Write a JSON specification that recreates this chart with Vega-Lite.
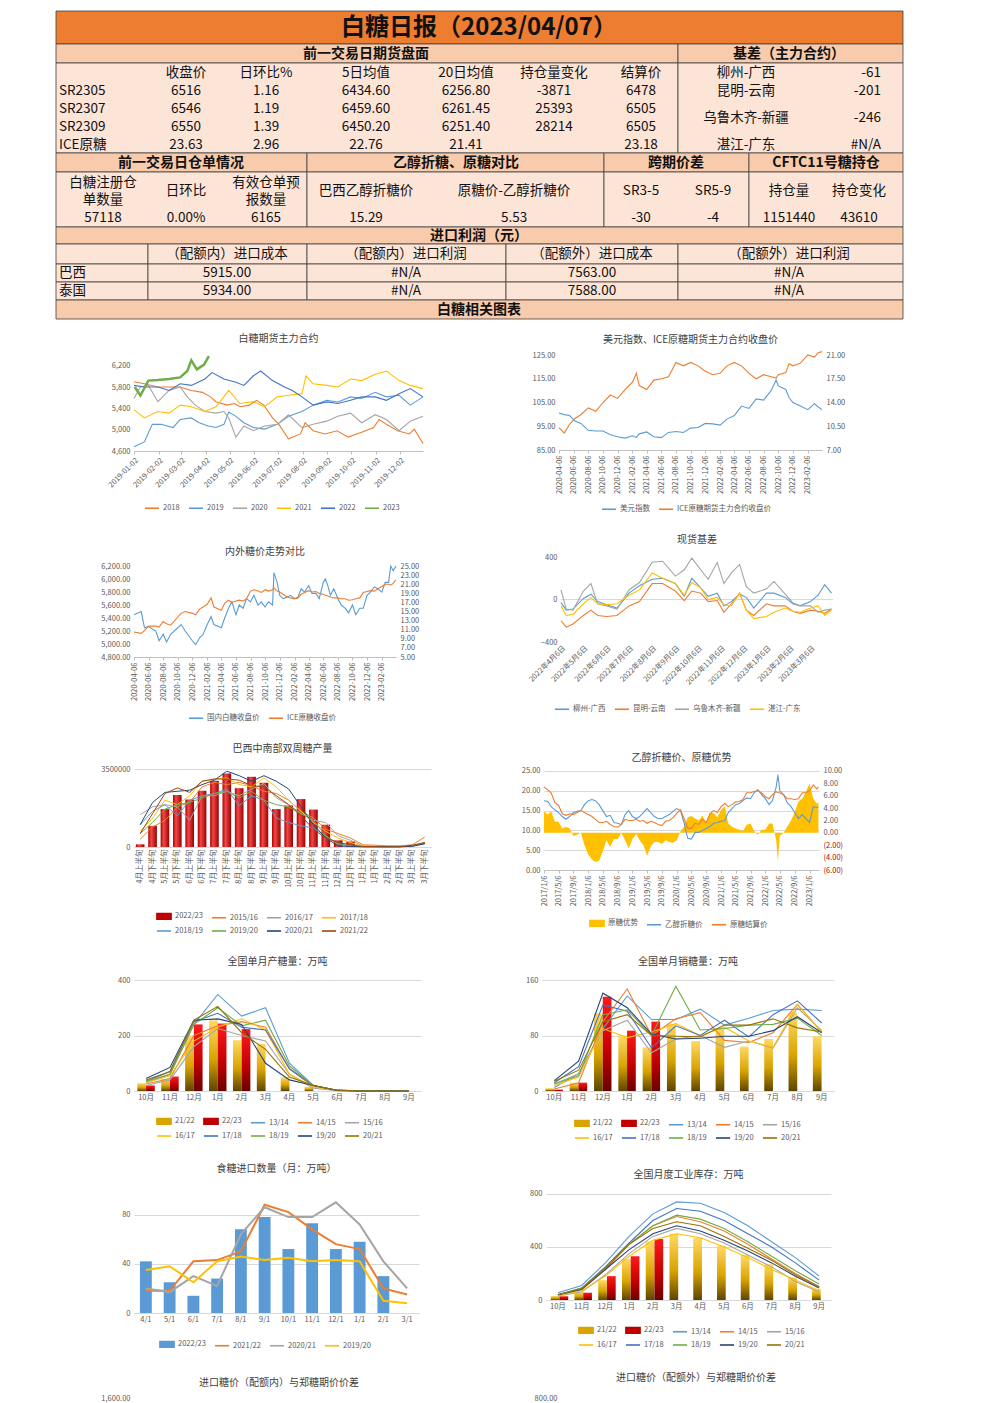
{
"$schema":"https://vega.github.io/schema/vega-lite/v6.json",
"background":"white",
"padding":{"left":55,"top":10,"right":0,"bottom":0},
"spacing":14,
"resolve":{"scale":{"color":"independent","fill":"independent"},"legend":{"color":"independent","fill":"independent"}},
"config":{
 "font":"Noto Sans CJK SC",
 "view":{"stroke":null},
 "title":{"fontSize":10,"fontWeight":"normal","color":"#404040","anchor":"middle","frame":"group","font":"Noto Sans CJK SC"},
 "axis":{"labelFontSize":7.5,"labelColor":"#595959","labelFont":"Noto Sans CJK SC","grid":false,"domainColor":"#BFBFBF","tickColor":"#BFBFBF","gridColor":"#D9D9D9","labelOverlap":false},
 "axisX":{"tickSize":3},
 "axisY":{"domain":false,"ticks":false,"labelPadding":4},
 "legend":{"labelFontSize":7.5,"labelColor":"#595959","labelFont":"Noto Sans CJK SC","title":null,"symbolSize":200,"symbolStrokeWidth":1.6,"orient":"none","direction":"horizontal","columnPadding":5,"labelOffset":3,"rowPadding":0,"symbolType":"stroke"}
},
"datasets":{
 "cells":[
  {"c":0,"c2":29,"r":0,"r2":1,"k":"title"},
  {"c":0,"c2":21,"r":1,"r2":2,"k":"head"},{"c":21,"c2":29,"r":1,"r2":2,"k":"head"},
  {"c":0,"c2":21,"r":2,"r2":7,"k":"body"},{"c":21,"c2":29,"r":2,"r2":7,"k":"body"},
  {"c":0,"c2":8,"r":7,"r2":8,"k":"head"},{"c":8,"c2":18,"r":7,"r2":8,"k":"head"},{"c":18,"c2":24,"r":7,"r2":8,"k":"head"},{"c":24,"c2":29,"r":7,"r2":8,"k":"head"},
  {"c":0,"c2":8,"r":8,"r2":10,"k":"body"},{"c":8,"c2":18,"r":8,"r2":10,"k":"body"},{"c":18,"c2":24,"r":8,"r2":10,"k":"body"},{"c":24,"c2":29,"r":8,"r2":10,"k":"body"},
  {"c":0,"c2":29,"r":10,"r2":11,"k":"head"},
  {"c":0,"c2":3,"r":11,"r2":12,"k":"body"},{"c":3,"c2":8,"r":11,"r2":12,"k":"body"},{"c":8,"c2":14,"r":11,"r2":12,"k":"body"},{"c":14,"c2":21,"r":11,"r2":12,"k":"body"},{"c":21,"c2":29,"r":11,"r2":12,"k":"body"},
  {"c":0,"c2":3,"r":12,"r2":13,"k":"body"},{"c":3,"c2":8,"r":12,"r2":13,"k":"body"},{"c":8,"c2":14,"r":12,"r2":13,"k":"body"},{"c":14,"c2":21,"r":12,"r2":13,"k":"body"},{"c":21,"c2":29,"r":12,"r2":13,"k":"body"},
  {"c":0,"c2":3,"r":13,"r2":14,"k":"body"},{"c":3,"c2":8,"r":13,"r2":14,"k":"body"},{"c":8,"c2":14,"r":13,"r2":14,"k":"body"},{"c":14,"c2":21,"r":13,"r2":14,"k":"body"},{"c":21,"c2":29,"r":13,"r2":14,"k":"body"},
  {"c":0,"c2":29,"r":14,"r2":15,"k":"head"}
 ],
 "texts":[
  {"c":13,"r":0.5,"t":"白糖日报（2023/04/07）","k":"title"},
  {"c":9,"r":1.5,"t":"前一交易日期货盘面","k":"head"},
  {"c":25,"r":1.5,"t":"基差（主力合约）","k":"head"},
  {"c":5,"r":2.5,"t":"收盘价","k":"body"},{"c":7,"r":2.5,"t":"日环比%","k":"body"},{"c":9,"r":2.5,"t":"5日均值","k":"body"},{"c":12,"r":2.5,"t":"20日均值","k":"body"},{"c":16,"r":2.5,"t":"持仓量变化","k":"body"},{"c":19,"r":2.5,"t":"结算价","k":"body"},{"c":23,"r":2.5,"t":"柳州-广西","k":"body"},{"c":28,"r":2.5,"t":"-61","k":"right"},
  {"c":1,"r":3.5,"t":"SR2305","k":"left"},{"c":5,"r":3.5,"t":"6516","k":"body"},{"c":7,"r":3.5,"t":"1.16","k":"body"},{"c":9,"r":3.5,"t":"6434.60","k":"body"},{"c":12,"r":3.5,"t":"6256.80","k":"body"},{"c":16,"r":3.5,"t":"-3871","k":"body"},{"c":19,"r":3.5,"t":"6478","k":"body"},{"c":23,"r":3.5,"t":"昆明-云南","k":"body"},{"c":28,"r":3.5,"t":"-201","k":"right"},
  {"c":1,"r":4.5,"t":"SR2307","k":"left"},{"c":5,"r":4.5,"t":"6546","k":"body"},{"c":7,"r":4.5,"t":"1.19","k":"body"},{"c":9,"r":4.5,"t":"6459.60","k":"body"},{"c":12,"r":4.5,"t":"6261.45","k":"body"},{"c":16,"r":4.5,"t":"25393","k":"body"},{"c":19,"r":4.5,"t":"6505","k":"body"},
  {"c":23,"r":5,"t":"乌鲁木齐-新疆","k":"body"},{"c":28,"r":5,"t":"-246","k":"right"},
  {"c":1,"r":5.5,"t":"SR2309","k":"left"},{"c":5,"r":5.5,"t":"6550","k":"body"},{"c":7,"r":5.5,"t":"1.39","k":"body"},{"c":9,"r":5.5,"t":"6450.20","k":"body"},{"c":12,"r":5.5,"t":"6251.40","k":"body"},{"c":16,"r":5.5,"t":"28214","k":"body"},{"c":19,"r":5.5,"t":"6505","k":"body"},
  {"c":1,"r":6.5,"t":"ICE原糖","k":"left"},{"c":5,"r":6.5,"t":"23.63","k":"body"},{"c":7,"r":6.5,"t":"2.96","k":"body"},{"c":9,"r":6.5,"t":"22.76","k":"body"},{"c":12,"r":6.5,"t":"21.41","k":"body"},{"c":19,"r":6.5,"t":"23.18","k":"body"},{"c":23,"r":6.5,"t":"湛江-广东","k":"body"},{"c":28,"r":6.5,"t":"#N/A","k":"right"},
  {"c":4,"r":7.5,"t":"前一交易日仓单情况","k":"head"},{"c":11,"r":7.5,"t":"乙醇折糖、原糖对比","k":"head"},{"c":20,"r":7.5,"t":"跨期价差","k":"head"},{"c":26,"r":7.5,"t":"CFTC11号糖持仓","k":"head"},
  {"c":2,"r":8.3,"t":"白糖注册仓","k":"body"},{"c":2,"r":8.77,"t":"单数量","k":"body"},{"c":5,"r":8.5,"t":"日环比","k":"body"},{"c":7,"r":8.3,"t":"有效仓单预","k":"body"},{"c":7,"r":8.77,"t":"报数量","k":"body"},{"c":9,"r":8.5,"t":"巴西乙醇折糖价","k":"body"},{"c":15,"r":8.5,"t":"原糖价-乙醇折糖价","k":"body"},{"c":19,"r":8.5,"t":"SR3-5","k":"body"},{"c":22,"r":8.5,"t":"SR5-9","k":"body"},{"c":25,"r":8.5,"t":"持仓量","k":"body"},{"c":27,"r":8.5,"t":"持仓变化","k":"body"},
  {"c":2,"r":9.5,"t":"57118","k":"body"},{"c":5,"r":9.5,"t":"0.00%","k":"body"},{"c":7,"r":9.5,"t":"6165","k":"body"},{"c":9,"r":9.5,"t":"15.29","k":"body"},{"c":15,"r":9.5,"t":"5.53","k":"body"},{"c":19,"r":9.5,"t":"-30","k":"body"},{"c":22,"r":9.5,"t":"-4","k":"body"},{"c":25,"r":9.5,"t":"1151440","k":"body"},{"c":27,"r":9.5,"t":"43610","k":"body"},
  {"c":13,"r":10.5,"t":"进口利润（元）","k":"head"},
  {"c":6,"r":11.5,"t":"（配额内）进口成本","k":"body"},{"c":10,"r":11.5,"t":"（配额内）进口利润","k":"body"},{"c":17,"r":11.5,"t":"（配额外）进口成本","k":"body"},{"c":25,"r":11.5,"t":"（配额外）进口利润","k":"body"},
  {"c":1,"r":12.5,"t":"巴西","k":"left"},{"c":6,"r":12.5,"t":"5915.00","k":"body"},{"c":10,"r":12.5,"t":"#N/A","k":"body"},{"c":17,"r":12.5,"t":"7563.00","k":"body"},{"c":25,"r":12.5,"t":"#N/A","k":"body"},
  {"c":1,"r":13.5,"t":"泰国","k":"left"},{"c":6,"r":13.5,"t":"5934.00","k":"body"},{"c":10,"r":13.5,"t":"#N/A","k":"body"},{"c":17,"r":13.5,"t":"7588.00","k":"body"},{"c":25,"r":13.5,"t":"#N/A","k":"body"},
  {"c":13,"r":14.5,"t":"白糖相关图表","k":"head"}
 ],
 "c1":[
  {"d":"2019-01-02","s":"2018","v":5900},{"d":"2019-01-15","s":"2018","v":5860},{"d":"2019-02-01","s":"2018","v":5800},{"d":"2019-03-01","s":"2018","v":5800},{"d":"2019-03-15","s":"2018","v":5735},{"d":"2019-03-29","s":"2018","v":5700},{"d":"2019-04-08","s":"2018","v":5615},{"d":"2019-04-15","s":"2018","v":5525},{"d":"2019-04-29","s":"2018","v":5460},{"d":"2019-05-08","s":"2018","v":5490},{"d":"2019-05-15","s":"2018","v":5430},{"d":"2019-05-27","s":"2018","v":5460},{"d":"2019-06-05","s":"2018","v":5550},{"d":"2019-06-14","s":"2018","v":5460},{"d":"2019-06-25","s":"2018","v":5220},{"d":"2019-07-03","s":"2018","v":5100},{"d":"2019-07-15","s":"2018","v":4830},{"d":"2019-07-30","s":"2018","v":4920},{"d":"2019-08-05","s":"2018","v":5130},{"d":"2019-08-15","s":"2018","v":4980},{"d":"2019-08-30","s":"2018","v":4920},{"d":"2019-09-14","s":"2018","v":4980},{"d":"2019-09-28","s":"2018","v":4860},{"d":"2019-10-15","s":"2018","v":4950},{"d":"2019-10-30","s":"2018","v":5040},{"d":"2019-11-06","s":"2018","v":5190},{"d":"2019-11-15","s":"2018","v":5100},{"d":"2019-11-29","s":"2018","v":4980},{"d":"2019-12-14","s":"2018","v":4920},{"d":"2019-12-20","s":"2018","v":5010},{"d":"2019-12-31","s":"2018","v":4740},
  {"d":"2019-01-02","s":"2019","v":4680},{"d":"2019-01-15","s":"2019","v":4770},{"d":"2019-01-25","s":"2019","v":5100},{"d":"2019-02-05","s":"2019","v":5100},{"d":"2019-02-20","s":"2019","v":5040},{"d":"2019-03-01","s":"2019","v":5190},{"d":"2019-03-15","s":"2019","v":5220},{"d":"2019-03-25","s":"2019","v":5130},{"d":"2019-04-05","s":"2019","v":5070},{"d":"2019-04-15","s":"2019","v":5040},{"d":"2019-04-25","s":"2019","v":5100},{"d":"2019-05-01","s":"2019","v":5330},{"d":"2019-05-10","s":"2019","v":5250},{"d":"2019-05-20","s":"2019","v":5130},{"d":"2019-06-01","s":"2019","v":5040},{"d":"2019-06-15","s":"2019","v":5010},{"d":"2019-07-01","s":"2019","v":5100},{"d":"2019-07-15","s":"2019","v":5250},{"d":"2019-08-01","s":"2019","v":5340},{"d":"2019-08-15","s":"2019","v":5460},{"d":"2019-09-01","s":"2019","v":5550},{"d":"2019-09-15","s":"2019","v":5520},{"d":"2019-10-01","s":"2019","v":5615},{"d":"2019-10-15","s":"2019","v":5585},{"d":"2019-11-01","s":"2019","v":5700},{"d":"2019-11-15","s":"2019","v":5615},{"d":"2019-12-01","s":"2019","v":5645},{"d":"2019-12-15","s":"2019","v":5460},{"d":"2019-12-31","s":"2019","v":5615},
  {"d":"2019-01-02","s":"2020","v":5585},{"d":"2019-01-10","s":"2020","v":5800},{"d":"2019-01-20","s":"2020","v":5830},{"d":"2019-02-01","s":"2020","v":5525},{"d":"2019-02-15","s":"2020","v":5735},{"d":"2019-03-01","s":"2020","v":5800},{"d":"2019-03-10","s":"2020","v":5615},{"d":"2019-03-20","s":"2020","v":5460},{"d":"2019-04-01","s":"2020","v":5340},{"d":"2019-04-15","s":"2020","v":5310},{"d":"2019-04-25","s":"2020","v":5340},{"d":"2019-05-01","s":"2020","v":5220},{"d":"2019-05-10","s":"2020","v":4860},{"d":"2019-05-20","s":"2020","v":5070},{"d":"2019-06-01","s":"2020","v":4980},{"d":"2019-06-15","s":"2020","v":5070},{"d":"2019-07-01","s":"2020","v":5100},{"d":"2019-07-15","s":"2020","v":5280},{"d":"2019-08-01","s":"2020","v":5040},{"d":"2019-08-15","s":"2020","v":5100},{"d":"2019-09-01","s":"2020","v":5160},{"d":"2019-09-15","s":"2020","v":5250},{"d":"2019-10-01","s":"2020","v":5310},{"d":"2019-10-15","s":"2020","v":5130},{"d":"2019-11-01","s":"2020","v":5280},{"d":"2019-11-15","s":"2020","v":5190},{"d":"2019-12-01","s":"2020","v":4980},{"d":"2019-12-15","s":"2020","v":5160},{"d":"2019-12-31","s":"2020","v":5250},
  {"d":"2019-01-02","s":"2021","v":5370},{"d":"2019-01-15","s":"2021","v":5220},{"d":"2019-02-01","s":"2021","v":5340},{"d":"2019-02-15","s":"2021","v":5310},{"d":"2019-03-01","s":"2021","v":5460},{"d":"2019-03-15","s":"2021","v":5430},{"d":"2019-04-01","s":"2021","v":5340},{"d":"2019-04-15","s":"2021","v":5430},{"d":"2019-05-01","s":"2021","v":5735},{"d":"2019-05-15","s":"2021","v":5490},{"d":"2019-06-01","s":"2021","v":5525},{"d":"2019-06-15","s":"2021","v":5430},{"d":"2019-07-01","s":"2021","v":5615},{"d":"2019-07-15","s":"2021","v":5645},{"d":"2019-08-01","s":"2021","v":5675},{"d":"2019-08-06","s":"2021","v":6010},{"d":"2019-08-15","s":"2021","v":5860},{"d":"2019-09-01","s":"2021","v":5830},{"d":"2019-09-15","s":"2021","v":5800},{"d":"2019-10-01","s":"2021","v":5950},{"d":"2019-10-15","s":"2021","v":5920},{"d":"2019-11-01","s":"2021","v":6040},{"d":"2019-11-15","s":"2021","v":6100},{"d":"2019-12-01","s":"2021","v":5920},{"d":"2019-12-15","s":"2021","v":5830},{"d":"2019-12-31","s":"2021","v":5770},
  {"d":"2019-01-02","s":"2022","v":5830},{"d":"2019-01-15","s":"2022","v":5800},{"d":"2019-02-01","s":"2022","v":5800},{"d":"2019-02-15","s":"2022","v":5735},{"d":"2019-03-01","s":"2022","v":5860},{"d":"2019-03-15","s":"2022","v":5830},{"d":"2019-04-01","s":"2022","v":5950},{"d":"2019-04-10","s":"2022","v":6070},{"d":"2019-04-25","s":"2022","v":5950},{"d":"2019-05-10","s":"2022","v":5890},{"d":"2019-05-20","s":"2022","v":5830},{"d":"2019-06-01","s":"2022","v":6010},{"d":"2019-06-10","s":"2022","v":6100},{"d":"2019-06-25","s":"2022","v":5920},{"d":"2019-07-10","s":"2022","v":5800},{"d":"2019-07-20","s":"2022","v":5735},{"d":"2019-08-01","s":"2022","v":5615},{"d":"2019-08-15","s":"2022","v":5460},{"d":"2019-09-01","s":"2022","v":5520},{"d":"2019-09-15","s":"2022","v":5490},{"d":"2019-10-01","s":"2022","v":5550},{"d":"2019-10-15","s":"2022","v":5615},{"d":"2019-11-01","s":"2022","v":5615},{"d":"2019-11-15","s":"2022","v":5550},{"d":"2019-12-01","s":"2022","v":5675},{"d":"2019-12-15","s":"2022","v":5770},{"d":"2019-12-31","s":"2022","v":5615},
  {"d":"2019-01-03","s":"2023","v":5800},{"d":"2019-01-10","s":"2023","v":5640},{"d":"2019-01-20","s":"2023","v":5920},{"d":"2019-02-01","s":"2023","v":5930},{"d":"2019-02-15","s":"2023","v":5950},{"d":"2019-03-01","s":"2023","v":5980},{"d":"2019-03-10","s":"2023","v":6100},{"d":"2019-03-15","s":"2023","v":6300},{"d":"2019-03-22","s":"2023","v":6130},{"d":"2019-03-31","s":"2023","v":6220},{"d":"2019-04-06","s":"2023","v":6380}
 ],
 "c2":[
  {"d":"2020-04-06","a":100.6,"b":10.3},{"d":"2020-04-28","a":99.9,"b":9.5},{"d":"2020-05-20","a":99.5,"b":10.8},{"d":"2020-06-10","a":97.3,"b":11.6},{"d":"2020-07-06","a":96.2,"b":12.2},{"d":"2020-08-06","a":93.3,"b":13.2},{"d":"2020-09-06","a":93.0,"b":12.7},{"d":"2020-10-06","a":93.0,"b":14.0},{"d":"2020-11-06","a":91.4,"b":15.1},{"d":"2020-12-06","a":90.6,"b":14.6},{"d":"2021-01-06","a":90.0,"b":15.9},{"d":"2021-02-06","a":91.0,"b":17.0},{"d":"2021-02-22","a":90.3,"b":18.3},{"d":"2021-03-06","a":91.8,"b":16.5},{"d":"2021-04-06","a":92.6,"b":15.9},{"d":"2021-05-06","a":90.6,"b":17.3},{"d":"2021-06-06","a":90.2,"b":17.5},{"d":"2021-07-06","a":92.4,"b":17.8},{"d":"2021-08-06","a":92.8,"b":19.9},{"d":"2021-09-06","a":92.4,"b":19.4},{"d":"2021-10-06","a":94.2,"b":19.9},{"d":"2021-11-06","a":94.5,"b":19.4},{"d":"2021-12-06","a":96.2,"b":18.6},{"d":"2022-01-06","a":96.0,"b":18.1},{"d":"2022-02-06","a":95.5,"b":18.3},{"d":"2022-03-06","a":98.0,"b":19.4},{"d":"2022-04-06","a":99.5,"b":19.9},{"d":"2022-05-06","a":103.5,"b":19.4},{"d":"2022-06-06","a":102.5,"b":18.3},{"d":"2022-07-06","a":106.5,"b":17.5},{"d":"2022-08-06","a":106.0,"b":18.1},{"d":"2022-09-06","a":110.0,"b":17.8},{"d":"2022-09-27","a":114.5,"b":17.6},{"d":"2022-10-06","a":112.0,"b":18.1},{"d":"2022-11-06","a":110.5,"b":18.4},{"d":"2022-11-20","a":107.0,"b":19.7},{"d":"2022-12-06","a":105.0,"b":19.4},{"d":"2023-01-06","a":103.5,"b":19.8},{"d":"2023-02-06","a":102.0,"b":21.0},{"d":"2023-03-06","a":104.5,"b":20.7},{"d":"2023-03-20","a":103.2,"b":21.3},{"d":"2023-04-06","a":102.0,"b":21.5}
 ],
 "c3":[
  {"d":"2020-04-06","a":5450,"b":10.5},{"d":"2020-05-06","a":5500,"b":10.2},{"d":"2020-05-20","a":5250,"b":10.8},{"d":"2020-06-06","a":5270,"b":11.8},{"d":"2020-07-06","a":5200,"b":11.8},{"d":"2020-07-20","a":5050,"b":11.6},{"d":"2020-08-06","a":5150,"b":12.8},{"d":"2020-08-20","a":5030,"b":12.3},{"d":"2020-09-06","a":5150,"b":12.0},{"d":"2020-10-06","a":5250,"b":13.8},{"d":"2020-10-20","a":5300,"b":14.6},{"d":"2020-11-06","a":5200,"b":15.0},{"d":"2020-12-06","a":5050,"b":14.6},{"d":"2020-12-20","a":4990,"b":14.3},
  {"d":"2021-01-06","a":5100,"b":15.6},{"d":"2021-01-20","a":5150,"b":16.0},{"d":"2021-02-06","a":5300,"b":16.6},{"d":"2021-02-22","a":5420,"b":18.0},{"d":"2021-03-06","a":5300,"b":16.0},{"d":"2021-04-06","a":5250,"b":15.3},{"d":"2021-04-20","a":5400,"b":16.8},{"d":"2021-05-06","a":5550,"b":17.5},{"d":"2021-05-20","a":5650,"b":17.0},{"d":"2021-06-06","a":5450,"b":17.3},{"d":"2021-06-20","a":5600,"b":17.5},{"d":"2021-07-06","a":5550,"b":17.3},{"d":"2021-07-20","a":5700,"b":17.8},{"d":"2021-08-06","a":5650,"b":19.5},{"d":"2021-08-20","a":5750,"b":19.8},{"d":"2021-09-06","a":5600,"b":19.5},{"d":"2021-09-20","a":5650,"b":19.2},{"d":"2021-10-06","a":5570,"b":19.8},{"d":"2021-10-20","a":5650,"b":19.5},{"d":"2021-11-06","a":5600,"b":19.8},{"d":"2021-11-12","a":6100,"b":20.2},{"d":"2021-11-25","a":5950,"b":19.5},{"d":"2021-12-06","a":5750,"b":19.3},{"d":"2021-12-20","a":5700,"b":18.8},
  {"d":"2022-01-06","a":5720,"b":18.2},{"d":"2022-01-20","a":5750,"b":18.0},{"d":"2022-02-06","a":5700,"b":17.8},{"d":"2022-02-20","a":5720,"b":18.0},{"d":"2022-03-06","a":5850,"b":18.8},{"d":"2022-03-20","a":5800,"b":19.2},{"d":"2022-04-06","a":5900,"b":19.6},{"d":"2022-04-20","a":5780,"b":19.3},{"d":"2022-05-06","a":5780,"b":19.4},{"d":"2022-05-20","a":5700,"b":19.0},{"d":"2022-06-06","a":5950,"b":18.8},{"d":"2022-06-15","a":6000,"b":18.6},{"d":"2022-06-25","a":5900,"b":18.4},{"d":"2022-07-06","a":5750,"b":18.2},{"d":"2022-07-20","a":5850,"b":18.0},{"d":"2022-08-06","a":5700,"b":18.0},{"d":"2022-08-20","a":5600,"b":17.8},{"d":"2022-09-06","a":5550,"b":17.8},{"d":"2022-09-20","a":5480,"b":17.5},{"d":"2022-10-06","a":5600,"b":17.6},{"d":"2022-10-20","a":5450,"b":17.8},{"d":"2022-11-06","a":5550,"b":18.0},{"d":"2022-11-20","a":5550,"b":19.2},{"d":"2022-12-06","a":5750,"b":19.4},{"d":"2022-12-20","a":5800,"b":19.6},
  {"d":"2023-01-06","a":5880,"b":19.5},{"d":"2023-01-20","a":5850,"b":20.0},{"d":"2023-02-06","a":5800,"b":20.5},{"d":"2023-02-20","a":5950,"b":21.0},{"d":"2023-03-06","a":5950,"b":21.0},{"d":"2023-03-15","a":6200,"b":20.8},{"d":"2023-03-25","a":6130,"b":21.2},{"d":"2023-04-06","a":6200,"b":22.0}
 ],
 "c4":[
  {"d":"2022-04-06","柳州-广西":-30,"昆明-云南":-200,"乌鲁木齐-新疆":90,"湛江-广东":-60},
  {"d":"2022-04-13","柳州-广西":-100,"昆明-云南":-260,"乌鲁木齐-新疆":-90,"湛江-广东":-150},
  {"d":"2022-04-22","柳州-广西":-90,"昆明-云南":-230,"乌鲁木齐-新疆":-100,"湛江-广东":-140},
  {"d":"2022-05-06","柳州-广西":10,"昆明-云南":-150,"乌鲁木齐-新疆":80,"湛江-广东":-40},
  {"d":"2022-05-16","柳州-广西":50,"昆明-云南":-100,"乌鲁木齐-新疆":150,"湛江-广东":20},
  {"d":"2022-05-25","柳州-广西":-20,"昆明-云南":-150,"乌鲁木齐-新疆":-40,"湛江-广东":-40},
  {"d":"2022-06-06","柳州-广西":-50,"昆明-云南":-160,"乌鲁木齐-新疆":-60,"湛江-广东":-50},
  {"d":"2022-06-20","柳州-广西":-80,"昆明-云南":-150,"乌鲁木齐-新疆":-90,"湛江-广东":-40},
  {"d":"2022-07-06","柳州-广西":60,"昆明-云南":-60,"乌鲁木齐-新疆":90,"湛江-广东":40},
  {"d":"2022-07-20","柳州-广西":130,"昆明-云南":-20,"乌鲁木齐-新疆":160,"湛江-广东":90},
  {"d":"2022-08-06","柳州-广西":190,"昆明-云南":150,"乌鲁木齐-新疆":350,"湛江-广东":250},
  {"d":"2022-08-20","柳州-广西":200,"昆明-云南":150,"乌鲁木齐-新疆":360,"湛江-广东":200},
  {"d":"2022-09-06","柳州-广西":150,"昆明-云南":80,"乌鲁木齐-新疆":220,"湛江-广东":150},
  {"d":"2022-09-18","柳州-广西":30,"昆明-云南":-10,"乌鲁木齐-新疆":280,"湛江-广东":40},
  {"d":"2022-09-28","柳州-广西":200,"昆明-云南":80,"乌鲁木齐-新疆":390,"湛江-广东":160},
  {"d":"2022-10-10","柳州-广西":110,"昆明-云南":60,"乌鲁木齐-新疆":280,"湛江-广东":110},
  {"d":"2022-10-20","柳州-广西":30,"昆明-云南":-20,"乌鲁木齐-新疆":190,"湛江-广东":0},
  {"d":"2022-11-01","柳州-广西":60,"昆明-云南":-10,"乌鲁木齐-新疆":350,"湛江-广东":20},
  {"d":"2022-11-10","柳州-广西":-60,"昆明-云南":-120,"乌鲁木齐-新疆":150,"湛江-广东":-50},
  {"d":"2022-11-20","柳州-广西":-20,"昆明-云南":-40,"乌鲁木齐-新疆":250,"湛江-广东":-60},
  {"d":"2022-12-01","柳州-广西":50,"昆明-云南":60,"乌鲁木齐-新疆":330,"湛江-广东":60},
  {"d":"2022-12-10","柳州-广西":20,"昆明-云南":-100,"乌鲁木齐-新疆":120,"湛江-广东":-100},
  {"d":"2022-12-20","柳州-广西":-80,"昆明-云南":-150,"乌鲁木齐-新疆":60,"湛江-广东":-180},
  {"d":"2023-01-06","柳州-广西":60,"昆明-云南":-40,"乌鲁木齐-新疆":100,"湛江-广东":-160},
  {"d":"2023-01-16","柳州-广西":60,"昆明-云南":-60,"乌鲁木齐-新疆":170,"湛江-广东":-120},
  {"d":"2023-01-31","柳州-广西":20,"昆明-云南":-60,"乌鲁木齐-新疆":50,"湛江-广东":-80},
  {"d":"2023-02-10","柳州-广西":-40,"昆明-云南":-110,"乌鲁木齐-新疆":-30,"湛江-广东":-110},
  {"d":"2023-02-20","柳州-广西":-60,"昆明-云南":-130,"乌鲁木齐-新疆":-60,"湛江-广东":-120},
  {"d":"2023-03-06","柳州-广西":-20,"昆明-云南":-100,"乌鲁木齐-新疆":-60,"湛江-广东":-80},
  {"d":"2023-03-16","柳州-广西":40,"昆明-云南":-110,"乌鲁木齐-新疆":-120,"湛江-广东":-60},
  {"d":"2023-03-25","柳州-广西":140,"昆明-云南":-130,"乌鲁木齐-新疆":-100,"湛江-广东":-150},
  {"d":"2023-04-03","柳州-广西":60,"昆明-云南":-90,"乌鲁木齐-新疆":-90,"湛江-广东":-100}
 ],
 "c5":[
  {"m":"4月上半旬","2022/23":120000,"2015/16":350000,"2016/17":1450000,"2017/18":700000,"2018/19":1000000,"2019/20":600000,"2020/21":1000000,"2021/22":600000},
  {"m":"4月下半旬","2022/23":950000,"2015/16":900000,"2016/17":1800000,"2017/18":1300000,"2018/19":1600000,"2019/20":1100000,"2020/21":2000000,"2021/22":1500000},
  {"m":"5月上半旬","2022/23":1700000,"2015/16":1200000,"2016/17":1900000,"2017/18":2100000,"2018/19":1900000,"2019/20":1700000,"2020/21":2450000,"2021/22":2400000},
  {"m":"5月下半旬","2022/23":2330000,"2015/16":1800000,"2016/17":1800000,"2017/18":1900000,"2018/19":1400000,"2019/20":1900000,"2020/21":2500000,"2021/22":2650000},
  {"m":"6月上半旬","2022/23":2130000,"2015/16":2000000,"2016/17":1200000,"2017/18":2300000,"2018/19":2100000,"2019/20":2000000,"2020/21":2550000,"2021/22":2450000},
  {"m":"6月下半旬","2022/23":2520000,"2015/16":2700000,"2016/17":2300000,"2017/18":2950000,"2018/19":2300000,"2019/20":2200000,"2020/21":2800000,"2021/22":2950000},
  {"m":"7月上半旬","2022/23":2970000,"2015/16":2900000,"2016/17":2300000,"2017/18":3050000,"2018/19":2400000,"2019/20":2400000,"2020/21":3000000,"2021/22":3050000},
  {"m":"7月下半旬","2022/23":3300000,"2015/16":2800000,"2016/17":2500000,"2017/18":3100000,"2018/19":2600000,"2019/20":2500000,"2020/21":3400000,"2021/22":3050000},
  {"m":"8月上半旬","2022/23":2640000,"2015/16":2900000,"2016/17":2300000,"2017/18":2800000,"2018/19":1850000,"2019/20":2200000,"2020/21":3200000,"2021/22":3000000},
  {"m":"8月下半旬","2022/23":3150000,"2015/16":2750000,"2016/17":2600000,"2017/18":2700000,"2018/19":2300000,"2019/20":2500000,"2020/21":2950000,"2021/22":2750000},
  {"m":"9月上半旬","2022/23":2880000,"2015/16":2500000,"2016/17":2850000,"2017/18":3100000,"2018/19":2100000,"2019/20":2100000,"2020/21":3200000,"2021/22":2700000},
  {"m":"9月下半旬","2022/23":1700000,"2015/16":2400000,"2016/17":2200000,"2017/18":2700000,"2018/19":1300000,"2019/20":1900000,"2020/21":2950000,"2021/22":2300000},
  {"m":"10月上半旬","2022/23":1860000,"2015/16":2100000,"2016/17":1900000,"2017/18":2100000,"2018/19":1100000,"2019/20":1800000,"2020/21":2600000,"2021/22":1900000},
  {"m":"10月下半旬","2022/23":2150000,"2015/16":1600000,"2016/17":1500000,"2017/18":1600000,"2018/19":950000,"2019/20":1500000,"2020/21":1800000,"2021/22":1400000},
  {"m":"11月上半旬","2022/23":1680000,"2015/16":1300000,"2016/17":1200000,"2017/18":1100000,"2018/19":850000,"2019/20":1200000,"2020/21":1000000,"2021/22":800000},
  {"m":"11月下半旬","2022/23":1000000,"2015/16":800000,"2016/17":1100000,"2017/18":700000,"2018/19":500000,"2019/20":500000,"2020/21":400000,"2021/22":400000},
  {"m":"12月上半旬","2022/23":300000,"2015/16":600000,"2016/17":500000,"2017/18":400000,"2018/19":150000,"2019/20":100000,"2020/21":50000,"2021/22":200000},
  {"m":"12月下半旬","2022/23":250000,"2015/16":400000,"2016/17":300000,"2017/18":200000,"2018/19":50000,"2019/20":50000,"2020/21":20000,"2021/22":100000},
  {"m":"1月上半旬","2022/23":null,"2015/16":100000,"2016/17":50000,"2017/18":30000,"2018/19":20000,"2019/20":10000,"2020/21":10000,"2021/22":20000},
  {"m":"1月下半旬","2022/23":null,"2015/16":80000,"2016/17":30000,"2017/18":20000,"2018/19":10000,"2019/20":10000,"2020/21":10000,"2021/22":20000},
  {"m":"2月上半旬","2022/23":null,"2015/16":50000,"2016/17":30000,"2017/18":20000,"2018/19":10000,"2019/20":10000,"2020/21":10000,"2021/22":10000},
  {"m":"2月下半旬","2022/23":null,"2015/16":50000,"2016/17":30000,"2017/18":20000,"2018/19":20000,"2019/20":10000,"2020/21":10000,"2021/22":10000},
  {"m":"3月上半旬","2022/23":null,"2015/16":100000,"2016/17":60000,"2017/18":50000,"2018/19":50000,"2019/20":40000,"2020/21":30000,"2021/22":80000},
  {"m":"3月下半旬","2022/23":null,"2015/16":450000,"2016/17":150000,"2017/18":200000,"2018/19":150000,"2019/20":200000,"2020/21":150000,"2021/22":200000}
 ],
 "c6":[
  {"d":"2017-01-06","乙醇折糖价":17.5,"原糖结算价":21.0,"原糖优势":3.5},{"d":"2017-02-06","乙醇折糖价":17.3,"原糖结算价":20.2,"原糖优势":2.9},{"d":"2017-03-06","乙醇折糖价":16.0,"原糖结算价":19.5,"原糖优势":3.5},{"d":"2017-04-06","乙醇折糖价":15.2,"原糖结算价":17.0,"原糖优势":1.8},{"d":"2017-05-06","乙醇折糖价":14.5,"原糖结算价":16.3,"原糖优势":1.8},{"d":"2017-06-06","乙醇折糖价":13.5,"原糖结算价":14.2,"原糖优势":0.7},{"d":"2017-07-06","乙醇折糖价":12.8,"原糖结算价":13.8,"原糖优势":1.0},{"d":"2017-08-06","乙醇折糖价":13.5,"原糖结算价":14.2,"原糖优势":0.7},{"d":"2017-09-06","乙醇折糖价":14.5,"原糖结算价":14.0,"原糖优势":-0.5},{"d":"2017-10-06","乙醇折糖价":14.8,"原糖结算价":14.5,"原糖优势":-0.3},{"d":"2017-11-06","乙醇折糖价":15.0,"原糖结算价":15.0,"原糖优势":0.0},{"d":"2017-12-06","乙醇折糖价":16.5,"原糖结算价":14.5,"原糖优势":-2.0},
  {"d":"2018-01-06","乙醇折糖价":17.5,"原糖结算价":14.0,"原糖优势":-3.5},{"d":"2018-02-06","乙醇折糖价":17.8,"原糖结算价":13.5,"原糖优势":-4.3},{"d":"2018-03-06","乙醇折糖价":17.5,"原糖结算价":12.8,"原糖优势":-4.7},{"d":"2018-04-06","乙醇折糖价":16.5,"原糖结算价":12.0,"原糖优势":-4.5},{"d":"2018-05-06","乙醇折糖价":15.0,"原糖结算价":12.0,"原糖优势":-3.0},{"d":"2018-06-06","乙醇折糖价":13.5,"原糖结算价":12.3,"原糖优势":-1.2},{"d":"2018-07-06","乙醇折糖价":13.8,"原糖结算价":11.5,"原糖优势":-2.3},{"d":"2018-08-06","乙醇折糖价":12.0,"原糖结算价":11.0,"原糖优势":-1.0},{"d":"2018-09-06","乙醇折糖价":11.8,"原糖结算价":10.8,"原糖优势":-1.0},{"d":"2018-10-06","乙醇折糖价":11.5,"原糖结算价":11.5,"原糖优势":0.0},{"d":"2018-11-06","乙醇折糖价":14.0,"原糖结算价":12.8,"原糖优势":-1.2},{"d":"2018-12-06","乙醇折糖价":15.0,"原糖结算价":12.5,"原糖优势":-2.5},
  {"d":"2019-01-06","乙醇折糖价":13.5,"原糖结算价":12.5,"原糖优势":-1.0},{"d":"2019-02-06","乙醇折糖价":13.0,"原糖结算价":12.8,"原糖优势":-0.2},{"d":"2019-03-06","乙醇折糖价":13.5,"原糖结算价":12.3,"原糖优势":-1.2},{"d":"2019-04-06","乙醇折糖价":14.5,"原糖结算价":12.5,"原糖优势":-2.0},{"d":"2019-05-06","乙醇折糖价":15.5,"原糖结算价":11.8,"原糖优势":-3.7},{"d":"2019-06-06","乙醇折糖价":14.5,"原糖结算价":12.3,"原糖优势":-2.2},{"d":"2019-07-06","乙醇折糖价":13.5,"原糖结算价":12.0,"原糖优势":-1.5},{"d":"2019-08-06","乙醇折糖价":13.0,"原糖结算价":11.5,"原糖优势":-1.5},{"d":"2019-09-06","乙醇折糖价":13.0,"原糖结算价":11.2,"原糖优势":-1.8},{"d":"2019-10-06","乙醇折糖价":13.5,"原糖结算价":12.3,"原糖优势":-1.2},{"d":"2019-11-06","乙醇折糖价":14.0,"原糖结算价":12.5,"原糖优势":-1.5},{"d":"2019-12-06","乙醇折糖价":14.8,"原糖结算价":13.2,"原糖优势":-1.6},
  {"d":"2020-01-06","乙醇折糖价":15.5,"原糖结算价":14.3,"原糖优势":-1.2},{"d":"2020-02-06","乙醇折糖价":15.0,"原糖结算价":15.2,"原糖优势":0.2},{"d":"2020-03-06","乙醇折糖价":12.0,"原糖结算价":13.0,"原糖优势":1.0},{"d":"2020-04-06","乙醇折糖价":8.0,"原糖结算价":10.5,"原糖优势":2.5},{"d":"2020-05-06","乙醇折糖价":7.8,"原糖结算价":10.5,"原糖优势":2.7},{"d":"2020-06-06","乙醇折糖价":9.5,"原糖结算价":11.8,"原糖优势":2.3},{"d":"2020-07-06","乙醇折糖价":9.5,"原糖结算价":11.5,"原糖优势":2.0},{"d":"2020-08-06","乙醇折糖价":10.0,"原糖结算价":12.8,"原糖优势":2.8},{"d":"2020-09-06","乙醇折糖价":10.5,"原糖结算价":12.0,"原糖优势":1.5},{"d":"2020-10-06","乙醇折糖价":11.0,"原糖结算价":14.2,"原糖优势":3.2},{"d":"2020-11-06","乙醇折糖价":11.8,"原糖结算价":15.0,"原糖优势":3.2},{"d":"2020-12-06","乙醇折糖价":12.0,"原糖结算价":14.5,"原糖优势":2.5},
  {"d":"2021-01-06","乙醇折糖价":12.3,"原糖结算价":16.0,"原糖优势":3.7},{"d":"2021-02-06","乙醇折糖价":12.5,"原糖结算价":16.8,"原糖优势":4.3},{"d":"2021-03-06","乙醇折糖价":14.5,"原糖结算价":16.0,"原糖优势":1.5},{"d":"2021-04-06","乙醇折糖价":15.5,"原糖结算价":16.5,"原糖优势":1.0},{"d":"2021-05-06","乙醇折糖价":16.5,"原糖结算价":17.2,"原糖优势":0.7},{"d":"2021-06-06","乙醇折糖价":16.8,"原糖结算价":17.3,"原糖优势":0.5},{"d":"2021-07-06","乙醇折糖价":17.5,"原糖结算价":17.8,"原糖优势":0.3},{"d":"2021-08-06","乙醇折糖价":18.2,"原糖结算价":19.5,"原糖优势":1.3},{"d":"2021-09-06","乙醇折糖价":18.0,"原糖结算价":19.5,"原糖优势":1.5},{"d":"2021-10-06","乙醇折糖价":19.5,"原糖结算价":19.8,"原糖优势":0.3},{"d":"2021-11-06","乙醇折糖价":20.3,"原糖结算价":20.0,"原糖优势":-0.3},{"d":"2021-12-06","乙醇折糖价":19.0,"原糖结算价":19.5,"原糖优势":0.5},
  {"d":"2022-01-06","乙醇折糖价":18.0,"原糖结算价":18.5,"原糖优势":0.5},{"d":"2022-02-06","乙醇折糖价":16.5,"原糖结算价":18.0,"原糖优势":1.5},{"d":"2022-03-06","乙醇折糖价":17.5,"原糖结算价":19.0,"原糖优势":1.5},{"d":"2022-04-06","乙醇折糖价":21.0,"原糖结算价":19.8,"原糖优势":-1.2},{"d":"2022-04-20","乙醇折糖价":24.0,"原糖结算价":19.5,"原糖优势":-4.5},{"d":"2022-05-06","乙醇折糖价":20.0,"原糖结算价":19.5,"原糖优势":-0.5},{"d":"2022-06-06","乙醇折糖价":19.0,"原糖结算价":19.0,"原糖优势":0.0},{"d":"2022-07-06","乙醇折糖价":17.0,"原糖结算价":18.0,"原糖优势":1.0},{"d":"2022-08-06","乙醇折糖价":16.0,"原糖结算价":18.0,"原糖优势":2.0},{"d":"2022-09-06","乙醇折糖价":14.5,"原糖结算价":17.8,"原糖优势":3.3},{"d":"2022-10-06","乙醇折糖价":13.0,"原糖结算价":18.0,"原糖优势":5.0},{"d":"2022-11-06","乙醇折糖价":14.0,"原糖结算价":19.5,"原糖优势":5.5},{"d":"2022-12-06","乙醇折糖价":13.0,"原糖结算价":19.5,"原糖优势":6.5},
  {"d":"2023-01-06","乙醇折糖价":12.0,"原糖结算价":20.0,"原糖优势":8.0},{"d":"2023-02-06","乙醇折糖价":16.0,"原糖结算价":21.5,"原糖优势":5.5},{"d":"2023-03-06","乙醇折糖价":15.8,"原糖结算价":20.5,"原糖优势":4.7},{"d":"2023-03-20","乙醇折糖价":16.0,"原糖结算价":21.0,"原糖优势":5.0}
 ],
 "c7":[
  {"m":"10月","21/22":28,"22/23":20,"13/14":30,"14/15":25,"15/16":20,"16/17":30,"17/18":35,"18/19":35,"19/20":45,"20/21":40},
  {"m":"11月","21/22":43,"22/23":52,"13/14":60,"14/15":45,"15/16":40,"16/17":55,"17/18":70,"18/19":60,"19/20":85,"20/21":70},
  {"m":"12月","21/22":200,"22/23":240,"13/14":240,"14/15":200,"15/16":160,"16/17":180,"17/18":250,"18/19":240,"19/20":255,"20/21":255},
  {"m":"1月","21/22":255,"22/23":243,"13/14":348,"14/15":235,"15/16":225,"16/17":230,"17/18":280,"18/19":300,"19/20":260,"20/21":305},
  {"m":"2月","21/22":183,"22/23":223,"13/14":270,"14/15":250,"15/16":200,"16/17":260,"17/18":230,"18/19":235,"19/20":240,"20/21":210},
  {"m":"3月","21/22":170,"22/23":null,"13/14":300,"14/15":230,"15/16":180,"16/17":220,"17/18":220,"18/19":255,"19/20":100,"20/21":150},
  {"m":"4月","21/22":50,"22/23":null,"13/14":100,"14/15":80,"15/16":60,"16/17":60,"17/18":80,"18/19":90,"19/20":40,"20/21":50},
  {"m":"5月","21/22":15,"22/23":null,"13/14":20,"14/15":15,"15/16":10,"16/17":15,"17/18":20,"18/19":20,"19/20":20,"20/21":20},
  {"m":"6月","21/22":0,"22/23":null,"13/14":2,"14/15":2,"15/16":1,"16/17":2,"17/18":3,"18/19":3,"19/20":2,"20/21":3},
  {"m":"7月","21/22":0,"22/23":null,"13/14":0,"14/15":0,"15/16":0,"16/17":0,"17/18":0,"18/19":0,"19/20":0,"20/21":0},
  {"m":"8月","21/22":0,"22/23":null,"13/14":0,"14/15":0,"15/16":0,"16/17":0,"17/18":0,"18/19":0,"19/20":0,"20/21":0},
  {"m":"9月","21/22":0,"22/23":null,"13/14":0,"14/15":0,"15/16":0,"16/17":0,"17/18":0,"18/19":0,"19/20":0,"20/21":0}
 ],
 "c8":[
  {"m":"10月","21/22":4,"22/23":2,"13/14":5,"14/15":3,"15/16":10,"16/17":8,"17/18":12,"18/19":10,"19/20":15,"20/21":14},
  {"m":"11月","21/22":12,"22/23":12,"13/14":25,"14/15":12,"15/16":25,"16/17":20,"17/18":35,"18/19":22,"19/20":43,"20/21":30},
  {"m":"12月","21/22":112,"22/23":136,"13/14":90,"14/15":100,"15/16":87,"16/17":90,"17/18":124,"18/19":110,"19/20":141,"20/21":100},
  {"m":"1月","21/22":80,"22/23":87,"13/14":137,"14/15":147,"15/16":102,"16/17":77,"17/18":115,"18/19":117,"19/20":120,"20/21":110},
  {"m":"2月","21/22":63,"22/23":100,"13/14":103,"14/15":80,"15/16":55,"16/17":85,"17/18":62,"18/19":80,"19/20":82,"20/21":80},
  {"m":"3月","21/22":97,"22/23":null,"13/14":103,"14/15":104,"15/16":75,"16/17":97,"17/18":94,"18/19":151,"19/20":75,"20/21":79},
  {"m":"4月","21/22":72,"22/23":null,"13/14":118,"14/15":113,"15/16":80,"16/17":80,"17/18":80,"18/19":88,"19/20":76,"20/21":78},
  {"m":"5月","21/22":90,"22/23":null,"13/14":95,"14/15":73,"15/16":63,"16/17":92,"17/18":102,"18/19":90,"19/20":79,"20/21":95},
  {"m":"6月","21/22":64,"22/23":null,"13/14":105,"14/15":70,"15/16":72,"16/17":72,"17/18":78,"18/19":95,"19/20":79,"20/21":95},
  {"m":"7月","21/22":75,"22/23":null,"13/14":116,"14/15":84,"15/16":62,"16/17":63,"17/18":110,"18/19":96,"19/20":87,"20/21":104},
  {"m":"8月","21/22":113,"22/23":null,"13/14":118,"14/15":125,"15/16":120,"16/17":125,"17/18":130,"18/19":105,"19/20":107,"20/21":91},
  {"m":"9月","21/22":79,"22/23":null,"13/14":116,"14/15":85,"15/16":87,"16/17":84,"17/18":98,"18/19":80,"19/20":84,"20/21":85}
 ],
 "c9":[
  {"m":"4/1","2022/23":42,"2021/22":18,"2020/21":20,"2019/20":35},
  {"m":"5/1","2022/23":25,"2021/22":18,"2020/21":17,"2019/20":38},
  {"m":"6/1","2022/23":14,"2021/22":42,"2020/21":30,"2019/20":25},
  {"m":"7/1","2022/23":28,"2021/22":43,"2020/21":22,"2019/20":42},
  {"m":"8/1","2022/23":68,"2021/22":50,"2020/21":64,"2019/20":46},
  {"m":"9/1","2022/23":78,"2021/22":88,"2020/21":86,"2019/20":43},
  {"m":"10/1","2022/23":52,"2021/22":82,"2020/21":78,"2019/20":45},
  {"m":"11/1","2022/23":73,"2021/22":68,"2020/21":78,"2019/20":42},
  {"m":"12/1","2022/23":52,"2021/22":56,"2020/21":90,"2019/20":43},
  {"m":"1/1","2022/23":58,"2021/22":52,"2020/21":72,"2019/20":42},
  {"m":"2/1","2022/23":30,"2021/22":20,"2020/21":42,"2019/20":10},
  {"m":"3/1","2022/23":null,"2021/22":15,"2020/21":20,"2019/20":8}
 ],
 "c10":[
  {"m":"10月","21/22":30,"22/23":28,"13/14":55,"14/15":40,"15/16":30,"16/17":35,"17/18":40,"18/19":40,"19/20":40,"20/21":40},
  {"m":"11月","21/22":60,"22/23":55,"13/14":110,"14/15":80,"15/16":60,"16/17":70,"17/18":90,"18/19":90,"19/20":80,"20/21":85},
  {"m":"12月","21/22":150,"22/23":180,"13/14":280,"14/15":230,"15/16":190,"16/17":180,"17/18":250,"18/19":240,"19/20":230,"20/21":240},
  {"m":"1月","21/22":310,"22/23":330,"13/14":480,"14/15":420,"15/16":350,"16/17":330,"17/18":430,"18/19":420,"19/20":380,"20/21":420},
  {"m":"2月","21/22":440,"22/23":460,"13/14":650,"14/15":560,"15/16":480,"16/17":450,"17/18":600,"18/19":560,"19/20":500,"20/21":540},
  {"m":"3月","21/22":500,"22/23":null,"13/14":740,"14/15":630,"15/16":540,"16/17":500,"17/18":690,"18/19":640,"19/20":560,"20/21":590},
  {"m":"4月","21/22":470,"22/23":null,"13/14":730,"14/15":590,"15/16":500,"16/17":470,"17/18":670,"18/19":610,"19/20":520,"20/21":560},
  {"m":"5月","21/22":410,"22/23":null,"13/14":660,"14/15":520,"15/16":430,"16/17":400,"17/18":600,"18/19":540,"19/20":450,"20/21":480},
  {"m":"6月","21/22":340,"22/23":null,"13/14":560,"14/15":420,"15/16":340,"16/17":320,"17/18":500,"18/19":440,"19/20":370,"20/21":390},
  {"m":"7月","21/22":270,"22/23":null,"13/14":440,"14/15":310,"15/16":250,"16/17":230,"17/18":400,"18/19":330,"19/20":280,"20/21":300},
  {"m":"8月","21/22":170,"22/23":null,"13/14":320,"14/15":200,"15/16":140,"16/17":150,"17/18":280,"18/19":220,"19/20":180,"20/21":190},
  {"m":"9月","21/22":85,"22/23":null,"13/14":180,"14/15":100,"15/16":60,"16/17":70,"17/18":150,"18/19":120,"19/20":90,"20/21":100}
 ]
},
"vconcat":[
 {
  "width":769,"height":308,
  "encoding":{
   "x":{"field":"c","type":"quantitative","axis":null,"scale":{"domain":[0,1,2,3,4,5,6,7,8,9,10,11,12,13,14,15,16,17,18,19,20,21,22,23,24,25,26,27,28,29],"range":[-78,-75,-31,14,47,52,93,132,173,232,272,322,332,345,372,380,420,458,470,507,542,544,579,612,615,655,692,725,747,769],"zero":false,"nice":false}},
   "y":{"field":"r","type":"quantitative","axis":null,"scale":{"domain":[0,1,2,3,4,5,6,7,8,9,10,11,12,13,14,15],"range":[0,33,52,71,89,107,125,142,161,198,216,233,253,271,289,308],"zero":false,"nice":false}}
  },
  "layer":[
   {"data":{"name":"cells"},"mark":{"type":"rect","stroke":"#3F3F3F","strokeWidth":0.8},
    "encoding":{"x2":{"field":"c2"},"y2":{"field":"r2"},"fill":{"field":"k","type":"nominal","legend":null,"scale":{"domain":["title","head","body"],"range":["#ED7D31","#F8CBAD","#FCE4D6"]}}}},
   {"data":{"name":"texts"},"transform":[{"filter":"datum.k==='title'"}],"mark":{"type":"text","fontSize":24,"fontWeight":"bold","color":"#111111"},"encoding":{"text":{"field":"t"}}},
   {"data":{"name":"texts"},"transform":[{"filter":"datum.k==='head'"}],"mark":{"type":"text","fontSize":14,"fontWeight":"bold","color":"#111111"},"encoding":{"text":{"field":"t"}}},
   {"data":{"name":"texts"},"transform":[{"filter":"datum.k==='body'"}],"mark":{"type":"text","fontSize":13.5,"color":"#111111"},"encoding":{"text":{"field":"t"}}},
   {"data":{"name":"texts"},"transform":[{"filter":"datum.k==='left'"}],"mark":{"type":"text","fontSize":13.5,"color":"#111111","align":"left"},"encoding":{"text":{"field":"t"}}},
   {"data":{"name":"texts"},"transform":[{"filter":"datum.k==='right'"}],"mark":{"type":"text","fontSize":13.5,"color":"#111111","align":"right"},"encoding":{"text":{"field":"t"}}}
  ]
 },
 {
 "spacing":22,
 "resolve":{"scale":{"color":"independent"},"legend":{"color":"independent"}},
 "vconcat":[
 {
  "spacing":103,
  "resolve":{"scale":{"color":"independent"},"legend":{"color":"independent"}},
  "hconcat":[
   {
    "width":289,"height":96,
    "title":{"text":"白糖期货主力合约","offset":7},
    "data":{"name":"c1"},
    "mark":{"type":"line","clip":false},
    "encoding":{
     "x":{"field":"d","type":"temporal","scale":{"type":"utc","domain":[{"year":2019,"month":1,"date":2,"utc":true},{"year":2019,"month":12,"date":31,"utc":true}]},
      "axis":{"title":null,"labelExpr":"utcFormat(datum.value, '%Y-%m-%d')","labelAngle":-45,"values":[{"year":2019,"month":1,"date":2,"utc":true},{"year":2019,"month":2,"date":2,"utc":true},{"year":2019,"month":3,"date":2,"utc":true},{"year":2019,"month":4,"date":2,"utc":true},{"year":2019,"month":5,"date":2,"utc":true},{"year":2019,"month":6,"date":2,"utc":true},{"year":2019,"month":7,"date":2,"utc":true},{"year":2019,"month":8,"date":2,"utc":true},{"year":2019,"month":9,"date":2,"utc":true},{"year":2019,"month":10,"date":2,"utc":true},{"year":2019,"month":11,"date":2,"utc":true},{"year":2019,"month":12,"date":2,"utc":true}]}},
     "y":{"field":"v","type":"quantitative","scale":{"domain":[4600,6400],"nice":false,"zero":false},"axis":{"title":null,"values":[4600,5000,5400,5800,6200],"format":",.0f"}},
     "color":{"field":"s","type":"nominal","scale":{"domain":["2018","2019","2020","2021","2022","2023"],"range":["#ED7D31","#5B9BD5","#A5A5A5","#FFC000","#4472C4","#70AD47"]},"legend":{"legendX":10,"legendY":145}},
     "strokeWidth":{"condition":{"test":"datum.s==='2023'","value":2.5},"value":1.1}
    }
   },
   {
    "width":263,"height":95,
    "title":{"text":"美元指数、ICE原糖期货主力合约收盘价","offset":4},
    "data":{"name":"c2"},
    "encoding":{"x":{"field":"d","type":"temporal","scale":{"type":"utc","domain":[{"year":2020,"month":4,"date":6,"utc":true},{"year":2023,"month":4,"date":6,"utc":true}]},
      "axis":{"title":null,"labelExpr":"utcFormat(datum.value, '%Y-%m-%d')","labelAngle":-90,"values":[{"year":2020,"month":4,"date":6,"utc":true},{"year":2020,"month":6,"date":6,"utc":true},{"year":2020,"month":8,"date":6,"utc":true},{"year":2020,"month":10,"date":6,"utc":true},{"year":2020,"month":12,"date":6,"utc":true},{"year":2021,"month":2,"date":6,"utc":true},{"year":2021,"month":4,"date":6,"utc":true},{"year":2021,"month":6,"date":6,"utc":true},{"year":2021,"month":8,"date":6,"utc":true},{"year":2021,"month":10,"date":6,"utc":true},{"year":2021,"month":12,"date":6,"utc":true},{"year":2022,"month":2,"date":6,"utc":true},{"year":2022,"month":4,"date":6,"utc":true},{"year":2022,"month":6,"date":6,"utc":true},{"year":2022,"month":8,"date":6,"utc":true},{"year":2022,"month":10,"date":6,"utc":true},{"year":2022,"month":12,"date":6,"utc":true},{"year":2023,"month":2,"date":6,"utc":true}]}}},
    "layer":[
     {"mark":{"type":"line","strokeWidth":1.1},"encoding":{"y":{"field":"a","type":"quantitative","scale":{"domain":[85,125],"nice":false,"zero":false},"axis":{"title":null,"orient":"left","values":[85,95,105,115,125],"format":".2f","minExtent":30}},
       "color":{"datum":"美元指数","type":"nominal","scale":{"domain":["美元指数","ICE原糖期货主力合约收盘价"],"range":["#5B9BD5","#ED7D31"]},"legend":{"legendX":42,"legendY":146}}}},
     {"mark":{"type":"line","strokeWidth":1.1},"encoding":{"y":{"field":"b","type":"quantitative","scale":{"domain":[7,21],"nice":false,"zero":false},"axis":{"title":null,"orient":"right","values":[7,10.5,14,17.5,21],"format":".2f"}},
       "color":{"datum":"ICE原糖期货主力合约收盘价","type":"nominal"}}}
    ],
    "resolve":{"scale":{"y":"independent"}}
   }
  ]
 },
 {
  "spacing":92,
  "resolve":{"scale":{"color":"independent"},"legend":{"color":"independent"}},
  "hconcat":[
   {
    "width":262,"height":100,
    "title":{"text":"内外糖价走势对比","offset":0},
    "data":{"name":"c3"},
    "encoding":{"x":{"field":"d","type":"temporal","scale":{"type":"utc","domain":[{"year":2020,"month":4,"date":6,"utc":true},{"year":2023,"month":4,"date":6,"utc":true}]},
      "axis":{"title":null,"labelExpr":"utcFormat(datum.value, '%Y-%m-%d')","labelAngle":-90,"values":[{"year":2020,"month":4,"date":6,"utc":true},{"year":2020,"month":6,"date":6,"utc":true},{"year":2020,"month":8,"date":6,"utc":true},{"year":2020,"month":10,"date":6,"utc":true},{"year":2020,"month":12,"date":6,"utc":true},{"year":2021,"month":2,"date":6,"utc":true},{"year":2021,"month":4,"date":6,"utc":true},{"year":2021,"month":6,"date":6,"utc":true},{"year":2021,"month":8,"date":6,"utc":true},{"year":2021,"month":10,"date":6,"utc":true},{"year":2021,"month":12,"date":6,"utc":true},{"year":2022,"month":2,"date":6,"utc":true},{"year":2022,"month":4,"date":6,"utc":true},{"year":2022,"month":6,"date":6,"utc":true},{"year":2022,"month":8,"date":6,"utc":true},{"year":2022,"month":10,"date":6,"utc":true},{"year":2022,"month":12,"date":6,"utc":true},{"year":2023,"month":2,"date":6,"utc":true}]}}},
    "layer":[
     {"mark":{"type":"line","strokeWidth":1.1},"encoding":{"y":{"field":"a","type":"quantitative","scale":{"domain":[4800,6340],"nice":false,"zero":false},"axis":{"title":null,"orient":"left","values":[4800,5000,5200,5400,5600,5800,6000,6200],"format":",.2f"}},
       "color":{"datum":"国内白糖收盘价","type":"nominal","scale":{"domain":["国内白糖收盘价","ICE原糖收盘价"],"range":["#5B9BD5","#ED7D31"]},"legend":{"legendX":54,"legendY":153}}}},
     {"mark":{"type":"line","strokeWidth":1.1},"encoding":{"y":{"field":"b","type":"quantitative","scale":{"domain":[5,27],"nice":false,"zero":false},"axis":{"title":null,"orient":"right","values":[5,7,9,11,13,15,17,19,21,23,25],"format":".2f","minExtent":28}},
       "color":{"datum":"ICE原糖收盘价","type":"nominal"}}}
    ],
    "resolve":{"scale":{"y":"independent"}}
   },
   {
    "width":272,"height":85,
    "title":{"text":"现货基差","offset":8},
    "data":{"name":"c4"},
    "layer":[
     {"data":{"values":[{}]},"mark":{"type":"rule","color":"#D9D9D9","strokeWidth":1},"encoding":{"y":{"datum":0,"type":"quantitative"}}},
     {"transform":[{"fold":["柳州-广西","昆明-云南","乌鲁木齐-新疆","湛江-广东"],"as":["s","v"]}],
      "mark":{"type":"line","strokeWidth":1.1},
      "encoding":{
       "x":{"field":"d","type":"temporal","scale":{"type":"utc","domain":[{"year":2022,"month":4,"date":6,"utc":true},{"year":2023,"month":4,"date":5,"utc":true}]},
        "axis":{"title":null,"labelExpr":"utcFormat(datum.value, '%Y年%-m月%-d日')","labelAngle":-45,"domain":false,"ticks":false,"values":[{"year":2022,"month":4,"date":6,"utc":true},{"year":2022,"month":5,"date":6,"utc":true},{"year":2022,"month":6,"date":6,"utc":true},{"year":2022,"month":7,"date":6,"utc":true},{"year":2022,"month":8,"date":6,"utc":true},{"year":2022,"month":9,"date":6,"utc":true},{"year":2022,"month":10,"date":6,"utc":true},{"year":2022,"month":11,"date":6,"utc":true},{"year":2022,"month":12,"date":6,"utc":true},{"year":2023,"month":1,"date":6,"utc":true},{"year":2023,"month":2,"date":6,"utc":true},{"year":2023,"month":3,"date":6,"utc":true}]}},
       "y":{"field":"v","type":"quantitative","scale":{"domain":[-400,400],"nice":false},"axis":{"title":null,"values":[-400,-200,0,200,400],"format":"d","minExtent":45}},
       "color":{"field":"s","type":"nominal","scale":{"domain":["柳州-广西","昆明-云南","乌鲁木齐-新疆","湛江-广东"],"range":["#5B9BD5","#ED7D31","#A5A5A5","#FFC000"]},"legend":{"legendX":-7,"legendY":144}}
      }}
    ]
   }
  ]
 },
 {
  "spacing":83,
  "resolve":{"scale":{"color":"independent"},"legend":{"color":"independent"}},
  "hconcat":[
   {
    "width":297,"height":78,
    "title":{"text":"巴西中南部双周糖产量","offset":11},
    "data":{"name":"c5"},
    "transform":[{"fold":["2022/23","2015/16","2016/17","2017/18","2018/19","2019/20","2020/21","2021/22"],"as":["s","v"]}],
    "encoding":{"x":{"field":"m","type":"nominal","scale":{"domain":["4月上半旬","4月下半旬","5月上半旬","5月下半旬","6月上半旬","6月下半旬","7月上半旬","7月下半旬","8月上半旬","8月下半旬","9月上半旬","9月下半旬","10月上半旬","10月下半旬","11月上半旬","11月下半旬","12月上半旬","12月下半旬","1月上半旬","1月下半旬","2月上半旬","2月下半旬","3月上半旬","3月下半旬"],"paddingInner":0.3,"paddingOuter":0.15},
      "axis":{"title":null,"labelAngle":-90,"ticks":false,"domainColor":"#D9D9D9"}}},
    "layer":[
     {"transform":[{"filter":"datum.s==='2022/23'"}],
      "mark":{"type":"bar","color":{"gradient":"linear","x1":0,"y1":0,"x2":1,"y2":0,"stops":[{"offset":0,"color":"#B00000"},{"offset":0.35,"color":"#F04848"},{"offset":1,"color":"#9A0000"}]}},
      "encoding":{"y":{"field":"v","type":"quantitative","scale":{"domain":[0,3500000],"nice":false},"axis":{"title":null,"values":[0,500000,1000000,1500000,2000000,2500000,3000000,3500000],"format":"d","grid":true}}}},
     {"transform":[{"filter":"datum.s!=='2022/23'"}],
      "mark":{"type":"line","strokeWidth":1},
      "encoding":{"y":{"field":"v","type":"quantitative"},
       "color":{"field":"s","type":"nominal","scale":{"domain":["2022/23","2015/16","2016/17","2017/18","2018/19","2019/20","2020/21","2021/22"],"range":["#C00000","#ED7D31","#A5A5A5","#FFC000","#5B9BD5","#70AD47","#264478","#9E480E"]},
        "legend":{"legendX":22,"legendY":139,"columns":4,"encode":{"symbols":{"update":{"shape":{"signal":"datum.value==='2022/23' ? 'M-1,-0.4H1V0.4H-1Z' : 'stroke'"},"fill":{"signal":"datum.value==='2022/23' ? '#C00000' : 'transparent'"}}}}}}}}
    ]
   },
   {
    "width":275,"height":101,
    "title":{"text":"乙醇折糖价、原糖优势","offset":4},
    "data":{"name":"c6"},
    "encoding":{"x":{"field":"d","type":"temporal","scale":{"type":"utc","domain":[{"year":2017,"month":1,"date":6,"utc":true},{"year":2023,"month":3,"date":25,"utc":true}]},
      "axis":{"title":null,"labelExpr":"utcFormat(datum.value, '%Y/%-m/%-d')","labelAngle":-90,"values":[{"year":2017,"month":1,"date":6,"utc":true},{"year":2017,"month":5,"date":6,"utc":true},{"year":2017,"month":9,"date":6,"utc":true},{"year":2018,"month":1,"date":6,"utc":true},{"year":2018,"month":5,"date":6,"utc":true},{"year":2018,"month":9,"date":6,"utc":true},{"year":2019,"month":1,"date":6,"utc":true},{"year":2019,"month":5,"date":6,"utc":true},{"year":2019,"month":9,"date":6,"utc":true},{"year":2020,"month":1,"date":6,"utc":true},{"year":2020,"month":5,"date":6,"utc":true},{"year":2020,"month":9,"date":6,"utc":true},{"year":2021,"month":1,"date":6,"utc":true},{"year":2021,"month":5,"date":6,"utc":true},{"year":2021,"month":9,"date":6,"utc":true},{"year":2022,"month":1,"date":6,"utc":true},{"year":2022,"month":5,"date":6,"utc":true},{"year":2022,"month":9,"date":6,"utc":true},{"year":2023,"month":1,"date":6,"utc":true}]}}},
    "layer":[
     {"mark":{"type":"area","color":"#FFC000"},
      "encoding":{"y":{"field":"原糖优势","type":"quantitative","scale":{"domain":[-6,10.3],"nice":false},"axis":{"title":null,"orient":"right","values":[-6,-4,-2,0,2,4,6,8,10],"labelExpr":"datum.value < 0 ? '(' + format(-datum.value, '.2f') + ')' : format(datum.value, '.2f')","labelColor":{"condition":{"test":"datum.value < 0","value":"#C00000"},"value":"#595959"}}}}},
     {"transform":[{"fold":["乙醇折糖价","原糖结算价"],"as":["s","v"]}],
      "mark":{"type":"line","strokeWidth":1.1},
      "encoding":{"y":{"field":"v","type":"quantitative","scale":{"domain":[0,25.5],"nice":false},"axis":{"title":null,"orient":"left","values":[0,5,10,15,20,25],"format":".2f","grid":true,"minExtent":30}},
       "color":{"field":"s","type":"nominal","scale":{"domain":["原糖优势","乙醇折糖价","原糖结算价"],"range":["#FFC000","#5B9BD5","#ED7D31"]},
        "legend":{"legendX":45,"legendY":146,"encode":{"symbols":{"update":{"shape":{"signal":"datum.value==='原糖优势' ? 'M-1,-0.4H1V0.4H-1Z' : 'stroke'"},"fill":{"signal":"datum.value==='原糖优势' ? '#FFC000' : 'transparent'"}}}}}}}}
    ],
    "resolve":{"scale":{"y":"independent"}}
   }
  ]
 },
 {
  "spacing":91,
  "resolve":{"scale":{"color":"independent"},"legend":{"color":"independent"}},
  "hconcat":[
   {
    "width":287,"height":111,
    "title":{"text":"全国单月产糖量：万吨","offset":9},
    "data":{"name":"c7"},
    "transform":[{"fold":["21/22","22/23","13/14","14/15","15/16","16/17","17/18","18/19","19/20","20/21"],"as":["s","v"]}],
    "encoding":{"x":{"field":"m","type":"nominal","scale":{"domain":["10月","11月","12月","1月","2月","3月","4月","5月","6月","7月","8月","9月"],"paddingInner":0.27,"paddingOuter":0.14},"axis":{"title":null,"labelAngle":0,"ticks":false,"domainColor":"#D9D9D9"}}},
    "layer":[
     {"transform":[{"filter":"datum.s==='21/22'"}],"mark":{"type":"bar","color":{"gradient":"linear","x1":0,"y1":0,"x2":0,"y2":1,"stops":[{"offset":0,"color":"#FFD966"},{"offset":0.55,"color":"#D9A400"},{"offset":1,"color":"#5C4500"}]}},
      "encoding":{"xOffset":{"field":"s","type":"nominal","scale":{"domain":["21/22","22/23"]}},"y":{"field":"v","type":"quantitative","scale":{"domain":[0,400],"nice":false},"axis":{"title":null,"values":[0,50,100,150,200,250,300,350,400],"grid":true}}}},
     {"transform":[{"filter":"datum.s==='22/23'"}],"mark":{"type":"bar","color":{"gradient":"linear","x1":0,"y1":0,"x2":0,"y2":1,"stops":[{"offset":0,"color":"#FF1A1A"},{"offset":0.6,"color":"#C00000"},{"offset":1,"color":"#6A0000"}]}},
      "encoding":{"xOffset":{"field":"s","type":"nominal"},"y":{"field":"v","type":"quantitative"}}},
     {"transform":[{"filter":"datum.s!=='21/22' && datum.s!=='22/23'"}],"mark":{"type":"line","strokeWidth":1.1},
      "encoding":{"y":{"field":"v","type":"quantitative"},
       "color":{"field":"s","type":"nominal","scale":{"domain":["21/22","22/23","13/14","14/15","15/16","16/17","17/18","18/19","19/20","20/21"],"range":["#D9A400","#C00000","#5B9BD5","#ED7D31","#A5A5A5","#FFC000","#4472C4","#70AD47","#264478","#997300"]},
        "legend":{"legendX":22,"legendY":133,"columns":5,"encode":{"symbols":{"update":{"shape":{"signal":"(datum.value==='21/22' || datum.value==='22/23') ? 'M-1,-0.4H1V0.4H-1Z' : 'stroke'"},"fill":{"signal":"datum.value==='21/22' ? '#D9A400' : (datum.value==='22/23' ? '#C00000' : 'transparent')"}}}}}}}}
    ]
   },
   {
    "width":292,"height":111,
    "title":{"text":"全国单月销糖量：万吨","offset":9},
    "data":{"name":"c8"},
    "transform":[{"fold":["21/22","22/23","13/14","14/15","15/16","16/17","17/18","18/19","19/20","20/21"],"as":["s","v"]}],
    "encoding":{"x":{"field":"m","type":"nominal","scale":{"domain":["10月","11月","12月","1月","2月","3月","4月","5月","6月","7月","8月","9月"],"paddingInner":0.27,"paddingOuter":0.14},"axis":{"title":null,"labelAngle":0,"ticks":false,"domainColor":"#D9D9D9"}}},
    "layer":[
     {"transform":[{"filter":"datum.s==='21/22'"}],"mark":{"type":"bar","color":{"gradient":"linear","x1":0,"y1":0,"x2":0,"y2":1,"stops":[{"offset":0,"color":"#FFD966"},{"offset":0.55,"color":"#D9A400"},{"offset":1,"color":"#5C4500"}]}},
      "encoding":{"xOffset":{"field":"s","type":"nominal","scale":{"domain":["21/22","22/23"]}},"y":{"field":"v","type":"quantitative","scale":{"domain":[0,160],"nice":false},"axis":{"title":null,"values":[0,20,40,60,80,100,120,140,160],"grid":true,"minExtent":30}}}},
     {"transform":[{"filter":"datum.s==='22/23'"}],"mark":{"type":"bar","color":{"gradient":"linear","x1":0,"y1":0,"x2":0,"y2":1,"stops":[{"offset":0,"color":"#FF1A1A"},{"offset":0.6,"color":"#C00000"},{"offset":1,"color":"#6A0000"}]}},
      "encoding":{"xOffset":{"field":"s","type":"nominal"},"y":{"field":"v","type":"quantitative"}}},
     {"transform":[{"filter":"datum.s!=='21/22' && datum.s!=='22/23'"}],"mark":{"type":"line","strokeWidth":1.1},
      "encoding":{"y":{"field":"v","type":"quantitative"},
       "color":{"field":"s","type":"nominal","scale":{"domain":["21/22","22/23","13/14","14/15","15/16","16/17","17/18","18/19","19/20","20/21"],"range":["#D9A400","#C00000","#5B9BD5","#ED7D31","#A5A5A5","#FFC000","#4472C4","#70AD47","#264478","#997300"]},
        "legend":{"legendX":32,"legendY":135,"columns":5,"encode":{"symbols":{"update":{"shape":{"signal":"(datum.value==='21/22' || datum.value==='22/23') ? 'M-1,-0.4H1V0.4H-1Z' : 'stroke'"},"fill":{"signal":"datum.value==='21/22' ? '#D9A400' : (datum.value==='22/23' ? '#C00000' : 'transparent')"}}}}}}}}
    ]
   }
  ]
 },
 {
  "spacing":97,
  "resolve":{"scale":{"color":"independent"},"legend":{"color":"independent"}},
  "hconcat":[
   {
    "width":285,"height":123,
    "title":{"text":"食糖进口数量（月：万吨）","offset":16},
    "data":{"name":"c9"},
    "transform":[{"fold":["2022/23","2021/22","2020/21","2019/20"],"as":["s","v"]}],
    "encoding":{"x":{"field":"m","type":"nominal","scale":{"domain":["4/1","5/1","6/1","7/1","8/1","9/1","10/1","11/1","12/1","1/1","2/1","3/1"],"paddingInner":0.5,"paddingOuter":0.25},"axis":{"title":null,"labelAngle":0,"ticks":false,"domainColor":"#D9D9D9"}}},
    "layer":[
     {"transform":[{"filter":"datum.s==='2022/23'"}],"mark":{"type":"bar","color":"#5B9BD5"},
      "encoding":{"y":{"field":"v","type":"quantitative","scale":{"domain":[0,100],"nice":false},"axis":{"title":null,"values":[0,20,40,60,80,100],"grid":true}}}},
     {"transform":[{"filter":"datum.s!=='2022/23'"}],"mark":{"type":"line","strokeWidth":2},
      "encoding":{"y":{"field":"v","type":"quantitative"},
       "color":{"field":"s","type":"nominal","scale":{"domain":["2022/23","2021/22","2020/21","2019/20"],"range":["#5B9BD5","#ED7D31","#A5A5A5","#FFC000"]},
        "legend":{"legendX":25,"legendY":146,"encode":{"symbols":{"update":{"shape":{"signal":"datum.value==='2022/23' ? 'M-1,-0.4H1V0.4H-1Z' : 'stroke'"},"fill":{"signal":"datum.value==='2022/23' ? '#5B9BD5' : 'transparent'"}}}}}}}}
    ]
   },
   {
    "width":285,"height":110,
    "title":{"text":"全国月度工业库存：万吨","offset":10},
    "data":{"name":"c10"},
    "transform":[{"fold":["21/22","22/23","13/14","14/15","15/16","16/17","17/18","18/19","19/20","20/21"],"as":["s","v"]}],
    "encoding":{"x":{"field":"m","type":"nominal","scale":{"domain":["10月","11月","12月","1月","2月","3月","4月","5月","6月","7月","8月","9月"],"paddingInner":0.4,"paddingOuter":0.2},"axis":{"title":null,"labelAngle":0,"ticks":false,"domainColor":"#D9D9D9"}}},
    "layer":[
     {"transform":[{"filter":"datum.s==='21/22'"}],"mark":{"type":"bar","color":{"gradient":"linear","x1":0,"y1":0,"x2":0,"y2":1,"stops":[{"offset":0,"color":"#FFD966"},{"offset":0.55,"color":"#D9A400"},{"offset":1,"color":"#5C4500"}]}},
      "encoding":{"xOffset":{"field":"s","type":"nominal","scale":{"domain":["21/22","22/23"]}},"y":{"field":"v","type":"quantitative","scale":{"domain":[0,830],"nice":false},"axis":{"title":null,"values":[0,100,200,300,400,500,600,700,800],"grid":true,"minExtent":30}}}},
     {"transform":[{"filter":"datum.s==='22/23'"}],"mark":{"type":"bar","color":{"gradient":"linear","x1":0,"y1":0,"x2":0,"y2":1,"stops":[{"offset":0,"color":"#FF1A1A"},{"offset":0.6,"color":"#C00000"},{"offset":1,"color":"#6A0000"}]}},
      "encoding":{"xOffset":{"field":"s","type":"nominal"},"y":{"field":"v","type":"quantitative"}}},
     {"transform":[{"filter":"datum.s!=='21/22' && datum.s!=='22/23'"}],"mark":{"type":"line","strokeWidth":1.1},
      "encoding":{"y":{"field":"v","type":"quantitative"},
       "color":{"field":"s","type":"nominal","scale":{"domain":["21/22","22/23","13/14","14/15","15/16","16/17","17/18","18/19","19/20","20/21"],"range":["#D9A400","#C00000","#5B9BD5","#ED7D31","#A5A5A5","#FFC000","#4472C4","#70AD47","#264478","#997300"]},
        "legend":{"legendX":32,"legendY":132,"columns":5,"encode":{"symbols":{"update":{"shape":{"signal":"(datum.value==='21/22' || datum.value==='22/23') ? 'M-1,-0.4H1V0.4H-1Z' : 'stroke'"},"fill":{"signal":"datum.value==='21/22' ? '#D9A400' : (datum.value==='22/23' ? '#C00000' : 'transparent')"}}}}}}}}
    ]
   }
  ]
 },
 {
  "spacing":107,
  "hconcat":[
   {
    "width":290,"height":150,
    "title":{"text":"进口糖价（配额内）与郑糖期价价差","offset":6},
    "data":{"values":[]},
    "mark":{"type":"line"},
    "encoding":{"x":{"field":"m","type":"nominal","axis":null},"y":{"field":"v","type":"quantitative","scale":{"domain":[-800,1600],"nice":false},"axis":{"title":null,"values":[1600],"format":",.2f"}}}
   },
   {
    "width":270,"height":150,
    "title":{"text":"进口糖价（配额外）与郑糖期价价差","offset":11},
    "data":{"values":[]},
    "mark":{"type":"line"},
    "encoding":{"x":{"field":"m","type":"nominal","axis":null},"y":{"field":"v","type":"quantitative","scale":{"domain":[-800,800],"nice":false},"axis":{"title":null,"values":[800],"format":",.2f","minExtent":30}}}
   }
  ]
 }
 ]
 }
]
}
